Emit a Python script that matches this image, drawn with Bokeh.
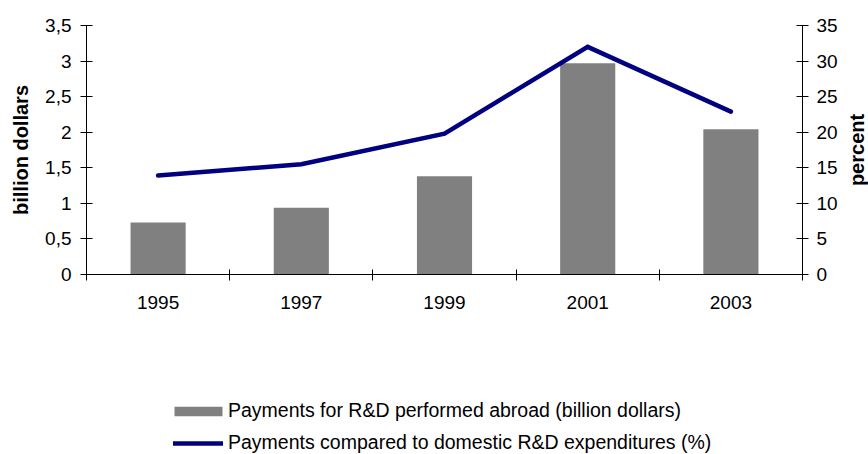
from bokeh.plotting import figure
from bokeh.layouts import column, row
from bokeh.models import (Range1d, LinearAxis, FixedTicker, CustomJSTickFormatter,
                          Legend, LegendItem, ColumnDataSource)
from bokeh.embed import file_html
from bokeh.resources import INLINE

years = ["1995", "1997", "1999", "2001", "2003"]
payments_bn = [0.73, 0.94, 1.38, 2.97, 2.04]
share_pct = [13.9, 15.5, 19.8, 32.0, 22.9]
left_ticks = [0, 0.5, 1, 1.5, 2, 2.5, 3, 3.5]
right_ticks = [0, 5, 10, 15, 20, 25, 30, 35]

FONT = "Liberation Sans"
BAR_COLOR = "#808080"
LINE_COLOR = "#000080"

xpos = [i + 0.5 for i in range(len(years))]
src = ColumnDataSource(dict(x=xpos, year=years, pay=payments_bn, pct=share_pct))

# ---- main chart -------------------------------------------------------------
p = figure(width=842, height=338, output_backend="svg", toolbar_location=None,
           x_range=Range1d(0, len(years)), y_range=Range1d(0, left_ticks[-1]),
           min_border_left=86, min_border_right=40, min_border_top=25,
           min_border_bottom=64)
p.extra_y_ranges = {"pct": Range1d(0, right_ticks[-1])}
p.grid.visible = False
p.outline_line_color = None

bars = p.vbar(x="x", top="pay", width=0.385, source=src,
              fill_color=BAR_COLOR, line_color=None)
line = p.line(x="x", y="pct", source=src, y_range_name="pct",
              line_color=LINE_COLOR, line_width=4.5, line_cap="round", line_join="miter")

xa = p.xaxis[0]
xa.ticker = FixedTicker(ticks=xpos, minor_ticks=list(range(len(years) + 1)))
xa.formatter = CustomJSTickFormatter(args=dict(labels=years),
                                     code="return labels[Math.floor(tick)];")
xa.major_tick_in = 0
xa.major_tick_out = 0
xa.minor_tick_in = 5
xa.minor_tick_out = 6
xa.minor_tick_line_color = "black"
xa.major_label_standoff = 15

ya = p.yaxis[0]
ya.ticker = FixedTicker(ticks=left_ticks)
ya.formatter = CustomJSTickFormatter(code="return String(tick).replace('.', ',');")
ya.major_tick_in = 6
ya.major_tick_out = 6
ya.major_label_standoff = 9
ya.axis_label = "billion dollars"
ya.axis_label_standoff = 10

ra = LinearAxis(y_range_name="pct", ticker=FixedTicker(ticks=right_ticks))
ra.major_tick_in = 6
ra.major_tick_out = 6
ra.major_label_standoff = 8
p.add_layout(ra, "right")

for ax in [xa, ya, ra]:
    ax.axis_line_color = "black"
    ax.axis_line_width = 1
    ax.major_tick_line_color = "black"
    ax.major_label_text_font = FONT
    ax.major_label_text_font_size = "19px"
    ax.major_label_text_color = "black"
    ax.axis_label_text_font = FONT
    ax.axis_label_text_font_size = "20px"
    ax.axis_label_text_font_style = "bold"
    ax.axis_label_text_color = "black"

# ---- right-hand axis title strip ("percent" as an axis title) -----------------
r = figure(width=26, height=338, output_backend="svg", toolbar_location=None,
           x_range=Range1d(0, 1), y_range=Range1d(0, 1),
           x_axis_type=None, y_axis_type=None,
           min_border_left=25, min_border_right=0, min_border_top=25,
           min_border_bottom=64)
r.grid.visible = False
r.outline_line_color = None
pa = LinearAxis(ticker=FixedTicker(ticks=[]), axis_label="percent")
pa.axis_line_color = None
pa.major_tick_line_color = None
pa.minor_tick_line_color = None
pa.major_tick_in = 0
pa.major_tick_out = 0
pa.minor_tick_in = 0
pa.minor_tick_out = 0
pa.major_label_standoff = 0
pa.axis_label_standoff = 1
pa.axis_label_text_font = FONT
pa.axis_label_text_font_size = "20px"
pa.axis_label_text_font_style = "bold"
pa.axis_label_text_color = "black"
r.add_layout(pa, "left")

# ---- legend strip -------------------------------------------------------------
q = figure(width=868, height=116, output_backend="svg", toolbar_location=None,
           x_range=Range1d(0, 1), y_range=Range1d(0, 1),
           x_axis_type=None, y_axis_type=None,
           min_border_left=86, min_border_right=66, min_border_top=0, min_border_bottom=0)
q.grid.visible = False
q.outline_line_color = None
lbar = q.vbar(x=[0.5], top=[1], width=0.1, fill_color=BAR_COLOR, line_color=None,
              visible=False)
lline = q.line(x=[0.2, 0.8], y=[0.5, 0.5], line_color=LINE_COLOR, line_width=4.5,
               line_cap="round", visible=False)

def style_legend(lg):
    lg.border_line_color = None
    lg.background_fill_alpha = 0
    lg.padding = 0
    lg.margin = 0
    lg.spacing = 0
    lg.label_text_font = FONT
    lg.label_text_font_size = "19.5px"
    lg.label_text_color = "black"
    lg.label_height = 20

lg1 = Legend(items=[LegendItem(label="Payments for R&D performed abroad (billion dollars)",
                               renderers=[lbar])],
             location=(82, 32), glyph_width=60, glyph_height=12)
style_legend(lg1)
lg1.label_standoff = 0
lg2 = Legend(items=[LegendItem(label="Payments compared to domestic R&D expenditures (%)",
                               renderers=[lline])],
             location=(87, 0), glyph_width=50, glyph_height=12)
style_legend(lg2)
lg2.label_standoff = 5
q.add_layout(lg1)
q.add_layout(lg2)

layout = column(row(p, r, spacing=0), q, spacing=0)
open("out.html", "w").write(file_html(layout, INLINE))
